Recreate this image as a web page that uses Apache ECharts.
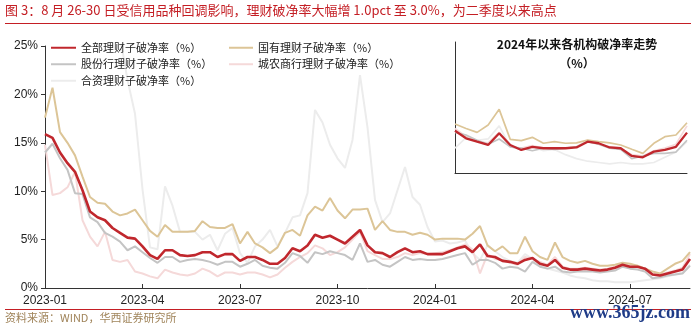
<!DOCTYPE html>
<html><head><meta charset="utf-8">
<script src="https://cdn.jsdelivr.net/npm/echarts@6/dist/echarts.min.js"></script>
<style>html,body{margin:0;padding:0;background:#fff}#c{width:696px;height:330px}</style>
</head><body><div id="c"></div>
<script>
// ---- data ----
const startDate = '2023-01-06';
const weekCount = 87;
const yTickLabels = ['0%','5%','10%','15%','20%','25%'];
const names = ['全部理财子破净率（%）','国有理财子破净率（%）','股份行理财子破净率（%）','城农商行理财子破净率（%）','合资理财子破净率（%）'];
const allRate = [15.9,15.5,14.0,12.9,12.0,10.1,7.9,7.3,7.0,6.2,5.7,5.2,5.1,4.3,3.4,3.0,3.9,3.9,3.4,3.3,3.4,3.7,3.7,3.2,3.5,3.5,2.8,3.2,3.2,2.9,2.5,2.5,3.1,4.1,3.8,4.4,5.5,5.2,5.4,5.0,4.6,5.3,6.0,4.4,3.7,3.6,3.2,3.7,4.1,3.7,3.8,3.5,3.5,3.5,3.8,4.1,4.3,3.7,4.5,3.3,3.2,2.8,2.7,2.5,2.9,3.1,2.5,2.3,2.9,2.1,1.9,1.9,2.0,1.9,1.8,1.9,2.1,2.4,2.2,2.2,2.0,1.4,1.3,1.5,1.7,1.9,3.0];
const stateRate = [17.6,20.7,16.1,15.0,13.7,11.5,9.4,8.8,8.7,7.9,7.5,7.7,8.1,7.0,5.9,5.3,6.5,5.8,5.8,5.8,5.9,6.9,6.3,6.2,6.2,6.6,4.6,5.8,4.6,4.2,3.6,4.2,5.7,6.0,5.4,7.5,8.4,8.0,9.3,8.0,7.2,8.1,8.1,8.2,6.0,6.9,6.0,5.8,5.8,5.5,5.7,5.5,5.0,5.1,5.1,5.1,5.0,5.6,6.4,4.4,3.8,4.3,3.6,3.6,5.3,3.8,3.2,2.9,4.7,3.2,2.8,2.6,2.8,2.5,2.3,2.3,2.4,2.6,2.5,2.3,2.0,1.7,1.5,2.0,2.5,2.8,3.7];
const jointRate = [14.0,14.9,13.4,12.2,9.8,9.7,7.3,6.8,5.7,5.3,4.8,3.9,4.3,3.7,3.1,2.6,3.2,3.2,2.7,2.9,3.0,2.9,2.7,2.4,2.7,2.7,2.2,2.5,2.9,2.3,2.1,2.0,2.6,3.6,3.3,2.6,3.7,3.5,3.8,3.6,3.4,2.9,4.6,2.7,2.9,2.4,2.2,2.7,3.2,2.9,3.0,2.9,2.9,3.0,3.2,3.4,3.6,2.4,2.9,2.9,2.6,2.0,2.2,2.1,1.7,2.7,2.2,2.0,2.2,1.7,1.6,1.7,1.7,1.7,1.6,1.7,1.8,2.2,2.0,1.9,1.7,1.0,1.1,1.3,1.4,1.5,2.3];
const cityRate = [14.8,9.6,9.8,10.4,12.0,7.0,5.3,4.3,5.8,2.9,2.7,2.9,1.7,1.5,1.2,1.0,1.9,1.6,1.4,1.3,1.5,2.0,1.7,1.2,1.6,1.6,1.4,1.6,1.6,1.4,1.1,1.4,2.1,2.7,3.2,3.6,4.4,4.1,3.4,3.7,4.2,5.0,5.8,3.8,3.4,3.0,3.0,3.2,3.6,3.4,3.6,3.5,3.6,3.7,3.9,4.2,4.5,4.0,1.5,3.5,3.0,2.9,2.6,2.4,3.2,3.0,2.7,2.4,3.2,2.2,2.0,2.0,2.1,2.0,1.9,2.0,2.2,2.6,2.3,2.3,2.0,1.4,1.4,1.6,1.8,2.1,3.5];
const jvRate = [26,27,27,28,28,27,27,26,26,26,26,21.5,18.0,10.2,4.2,4.0,10.5,8.5,5.8,5.8,5.8,5.0,5.5,3.9,5.6,6.2,3.6,2.6,4.3,5.0,6.0,4.3,5.7,7.3,7.5,9.8,18.4,17.1,14.8,13.4,12.4,15.3,22.0,16.6,9.1,6.8,7.7,10.1,12.5,9.4,8.6,6.3,4.8,4.9,4.6,4.7,4.9,3.6,2.9,4.4,3.8,3.2,2.8,2.6,3.5,3.0,2.3,2.0,1.8,1.6,1.3,1.1,1.0,0.8,0.7,0.7,0.6,0.6,0.6,0.7,0.8,0.9,1.0,1.2,1.4,1.6,2.4];
// inset (since 2024)
const insetAll   = [3.23,2.65,2.39,2.14,3.03,2.14,1.76,2.0,1.89,1.89,1.89,1.95,2.39,2.27,1.95,1.89,1.3,1.2,1.63,1.76,2.0,3.08];
const insetState = [3.74,3.4,3.1,3.66,4.86,2.57,2.47,2.72,2.27,2.39,2.27,2.3,2.52,2.39,2.3,2.14,1.81,1.5,2.27,2.77,2.9,3.84];
const insetJoint = [3.1,2.9,2.5,2.2,2.6,2.0,1.9,1.7,1.9,1.8,1.9,2.0,2.4,2.2,1.9,1.8,1.1,1.3,1.5,1.5,1.6,2.5];
const insetCity  = [3.4,2.8,2.4,2.3,3.1,2.0,1.9,2.1,1.9,1.9,1.9,2.0,2.5,2.2,2.0,1.9,1.4,1.3,1.7,1.9,2.2,3.6];
const insetJv    = [1.9,2.7,2.5,2.6,3.6,2.0,1.8,2.0,1.7,1.8,1.4,1.1,0.9,0.8,0.7,0.8,0.7,0.7,0.8,1.2,1.6,2.4];

// ---- build categories ----
const dates = [];
{
  const d0 = new Date(startDate + 'T00:00:00Z');
  for (let i = 0; i < weekCount; i++) {
    const d = new Date(d0.getTime() + i * 7 * 86400000);
    dates.push(d.toISOString().slice(0, 10));
  }
}
const insetCats = insetAll.map((_, i) => 'w' + (i + 1));

const colors = ['#C0272D', '#DCC597', '#C4C4C4', '#F5D9D9', '#ECECEC'];
const widths = [2.6, 2, 2, 2, 2];
const mainData = [allRate, stateRate, jointRate, cityRate, jvRate];
const insetData = [insetAll, insetState, insetJoint, insetCity, insetJv];
const FONT = '"Liberation Sans", "Noto Sans CJK SC", sans-serif';
const CJK = '"Noto Sans CJK SC", "Liberation Sans", sans-serif';

const series = [];
[4, 3, 2, 1, 0].forEach(k => {
  series.push({ name: names[k], type: 'line', data: mainData[k], symbol: 'none',
    lineStyle: { color: colors[k], width: widths[k] }, itemStyle: { color: colors[k] }, z: 2 + (4 - k) });
});
[4, 3, 2, 1, 0].forEach(k => {
  series.push({ name: names[k], type: 'line', data: insetData[k], symbol: 'none', xAxisIndex: 1, yAxisIndex: 1,
    lineStyle: { color: colors[k], width: widths[k] - 0.3 }, itemStyle: { color: colors[k] }, z: 2 + (4 - k) });
});

const legendCommon = { orient: 'vertical', icon: 'rect', itemHeight: 2, itemGap: 3,
  textStyle: { fontSize: 11, color: '#222', fontFamily: CJK, lineHeight: 13.5 } };

const chart = echarts.init(document.getElementById('c'));
chart.setOption({
  animation: false,
  backgroundColor: '#fff',
  textStyle: { fontFamily: FONT },
  grid: [
    { left: 45, right: 6, top: 46, bottom: 42 },
    { left: 455, right: 9, top: 42, bottom: 157 }
  ],
  legend: [
    Object.assign({ left: 46, top: 36, itemWidth: 25, data: [names[0], names[2], names[4]] }, legendCommon),
    Object.assign({ left: 224, top: 36, itemWidth: 24, data: [names[1], names[3]] }, legendCommon)
  ],
  xAxis: [
    { type: 'category', gridIndex: 0, data: dates, boundaryGap: false,
      axisLine: { lineStyle: { color: '#333', width: 1 } },
      axisTick: { inside: true, length: 4, interval: 12, lineStyle: { color: '#333' } },
      axisLabel: { interval: 12, color: '#222', fontSize: 12, margin: 7, fontFamily: FONT,
        formatter: v => v.slice(0, 7) },
      splitLine: { show: false } },
    { type: 'category', gridIndex: 1, data: insetCats, boundaryGap: false,
      axisLine: { lineStyle: { color: '#333', width: 1 } },
      axisTick: { show: false }, axisLabel: { show: false }, splitLine: { show: false } }
  ],
  yAxis: [
    { type: 'value', gridIndex: 0, min: 0, max: 25, interval: 5,
      axisLine: { show: true, lineStyle: { color: '#333', width: 1 } },
      axisTick: { show: true, length: 4, lineStyle: { color: '#333' } },
      axisLabel: { color: '#222', fontSize: 12, margin: 7, fontFamily: FONT,
        formatter: (v) => yTickLabels[Math.round(v / 5)] },
      splitLine: { show: false } },
    { type: 'value', gridIndex: 1, min: 0, max: 10,
      axisLine: { show: true, lineStyle: { color: '#333', width: 1 } },
      axisTick: { show: false }, axisLabel: { show: false }, splitLine: { show: false } }
  ],
  series: series,
  graphic: [
    { type: 'text', x: 5, y: 4, style: { text: '图 3：8 月 26-30 日受信用品种回调影响，理财破净率大幅增 1.0pct 至 3.0%，为二季度以来高点',
      fill: '#C41E24', fontSize: 13, fontFamily: CJK } },
    { type: 'rect', shape: { x: 5, y: 23, width: 686, height: 1 }, style: { fill: '#C41E24' } },
    { type: 'text', x: 577, y: 38, style: { text: '2024年以来各机构破净率走势', fill: '#111',
      fontSize: 12, fontWeight: 'bold', fontFamily: CJK, textAlign: 'center' } },
    { type: 'text', x: 577, y: 57, style: { text: '（%）', fill: '#111',
      fontSize: 12, fontWeight: 'bold', fontFamily: CJK, textAlign: 'center' } },
    { type: 'rect', shape: { x: 5, y: 309, width: 686, height: 1 }, style: { fill: '#C41E24' } },
    { type: 'text', x: 5, y: 312, style: { text: '资料来源：WIND，华西证券研究所', fill: '#A0845A', fontSize: 11, fontFamily: CJK } },
    { type: 'text', x: 690, y: 304, style: { text: 'www.365jz.com', fill: '#1F3C88', fontSize: 18, fontWeight: 'bold',
      fontFamily: '"Liberation Serif", "DejaVu Serif", serif', textAlign: 'right' } }
  ]
});
</script>
</body></html>
